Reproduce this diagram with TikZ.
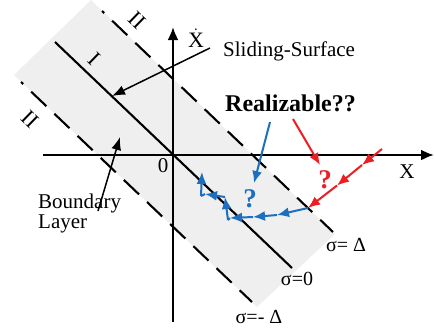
\documentclass[tikz,border=0pt]{standalone}
\usepackage{fontspec}
\setmainfont{Liberation Serif}
\usetikzlibrary{arrows.meta}
\definecolor{bandgray}{RGB}{239,239,239}
\definecolor{trajblue}{RGB}{28,110,190}
\definecolor{trajred}{RGB}{236,30,36}
\begin{document}
\begin{tikzpicture}[x=1pt,y=-1pt,
  axis/.style={line width=2.2pt,-{Latex[length=13pt,width=11pt]}},
  sline/.style={line width=2.1pt},
  dline/.style={line width=2.1pt,dash pattern=on 21pt off 11pt,dash phase=18pt},
  pointer/.style={line width=1.5pt,-{Latex[length=13pt,width=10pt]}},
  bluearr/.style={trajblue,line width=2pt,-{Latex[length=12pt,width=10pt]}},
  blueline/.style={trajblue,line width=2pt},
  redarr/.style={trajred,line width=2pt,-{Latex[length=12pt,width=10pt]}},
  lbl/.style={inner sep=0pt,font=\fontsize{21}{21}\selectfont},
  roman/.style={inner sep=0pt,font=\fontsize{22}{22}\selectfont,rotate=-44},
  qmark/.style={inner sep=0pt,font=\fontsize{27}{27}\selectfont\bfseries},
]
\useasboundingbox (0,0) rectangle (435,335);
% gray boundary-layer band
\begin{scope}
\clip (0,0) rectangle (435,335);
\fill[bandgray] (14,75) -- (91,0) -- (335,234) -- (257,307) -- cycle;
\end{scope}
% axes
\coordinate (xa0) at (43,155);
\coordinate (xa1) at (434,155);
\coordinate (ya0) at (173,322);
\coordinate (ya1) at (173,27);
\draw[axis] (xa0) -- (xa1);
\draw[axis] (ya0) -- (ya1);
% sliding surface and boundary lines
\coordinate (s0) at (55,42);
\coordinate (s1) at (292,268);
\coordinate (u0) at (102,11);
\coordinate (u1) at (333,232);
\coordinate (l0) at (21,82);
\coordinate (l1) at (252,302);
\draw[sline] (s0) -- (s1);
\draw[dline] (u0) -- (u1);
\draw[dline] (l0) -- (l1);
% region labels
\node[roman] (r2a) at (137,20) {II};
\node[roman] (r1) at (94,59) {I};
\node[roman] (r2b) at (30,119) {II};
% texts
\node[lbl,font=\fontsize{22}{22}\selectfont] (xdot) at (196,38) {$\dot{\mbox{X}}$};
\node[lbl,anchor=base west] (slide) at (223,56) {Sliding-Surface};
\node[inner sep=0pt,anchor=base west,font=\fontsize{24}{24}\selectfont\bfseries] (real) at (225,111) {Realizable??};
\node[lbl] (zero) at (163,166) {0};
\node[lbl] (xlab) at (407,172) {X};
\node[lbl,anchor=base west,align=left,font=\fontsize{21}{17}\selectfont] (bl) at (38,228) {Boundary\\Layer};
\node[lbl,font=\fontsize{20}{20}\selectfont] (sp) at (346,245) {σ= Δ};
\node[lbl,font=\fontsize{20}{20}\selectfont] (s0l) at (297,279) {σ=0};
\node[lbl,font=\fontsize{20}{20}\selectfont] (sm) at (259,317) {σ=- Δ};
\node[qmark,text=trajblue] (qb) at (250,199) {?};
\node[qmark,text=trajred] (qr) at (325,180) {?};
% pointer arrows
\coordinate (pa0) at (210,48);
\coordinate (pa1) at (112,96);
\draw[pointer] (pa0) -- (pa1);
\coordinate (pb0) at (98,211);
\coordinate (pb1) at (120,137);
\draw[pointer] (pb0) -- (pb1);
\coordinate (pc0) at (270,122);
\coordinate (pc1) at (254,183);
\draw[bluearr] (pc0) -- (pc1);
\coordinate (pd0) at (293,119);
\coordinate (pd1) at (320,165);
\draw[redarr] (pd0) -- (pd1);
% red trajectory
\coordinate (r0) at (382,149);
\coordinate (ra) at (362,165);
\coordinate (rb) at (337,185.5);
\coordinate (c1) at (308,208);
\draw[redarr] (r0) -- (ra);
\draw[redarr] (ra) -- (rb);
\draw[redarr] (rb) -- (c1);
% blue chattering trajectory
\coordinate (c2) at (277,215);
\coordinate (c3) at (253,217);
\coordinate (c4) at (230,218);
\coordinate (c5) at (228,220);
\coordinate (c6) at (225,197);
\coordinate (c8) at (205,194);
\coordinate (c9) at (201,196);
\coordinate (c10) at (202,172);
\draw[bluearr] (c1) -- (c2);
\draw[bluearr] (c2) -- (c3);
\draw[bluearr] (c3) -- (c4);
\draw[blueline] (c4) -- (c5);
\draw[bluearr] (c5) -- (c6);
\draw[bluearr] (c6) -- (c8);
\draw[blueline] (c8) -- (c9);
\draw[bluearr] (c9) -- (c10);
\end{tikzpicture}
\end{document}
